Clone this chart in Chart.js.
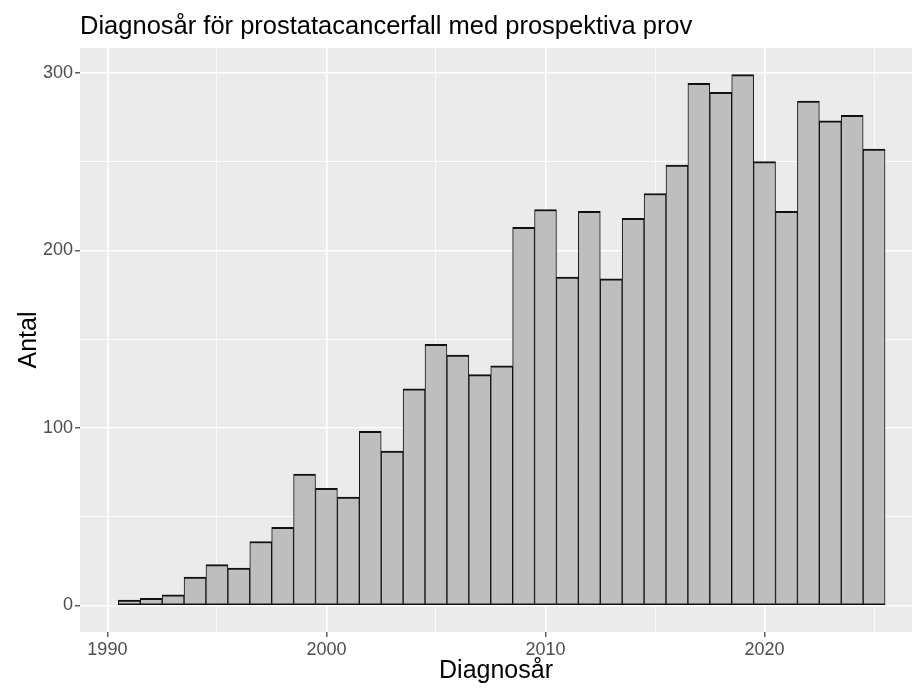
<!DOCTYPE html>
<html>
<head>
<meta charset="utf-8">
<script src="https://cdn.jsdelivr.net/npm/chart.js@4.4.1/dist/chart.umd.min.js"></script>
<style>
  html, body { margin: 0; padding: 0; background: #ffffff; }
</style>
</head>
<body>
<canvas id="histChart" width="912" height="688"></canvas>
<script>
// Diagnosår (bin centres) and antal fall per år
const years = [1991, 1992, 1993, 1994, 1995, 1996, 1997, 1998, 1999, 2000,
               2001, 2002, 2003, 2004, 2005, 2006, 2007, 2008, 2009, 2010,
               2011, 2012, 2013, 2014, 2015, 2016, 2017, 2018, 2019, 2020,
               2021, 2022, 2023, 2024, 2025];
const counts = [3, 4, 6, 16, 23, 21, 36, 44, 74, 66,
                61, 98, 87, 122, 147, 141, 130, 135, 213, 223,
                185, 222, 184, 218, 232, 248, 294, 289, 299, 250,
                222, 284, 273, 276, 257];

// Grid lines (major + minor) and labels
const xTicks = [1990, 1995, 2000, 2005, 2010, 2015, 2020, 2025];
const yTicks = [0, 50, 100, 150, 200, 250, 300];

const FONT = '"Liberation Sans", Arial, Helvetica, sans-serif';

// Grå panelbakgrund som i ggplot
const panelBg = {
    id: 'panelBg',
    beforeDraw(chart) {
        const { ctx, chartArea: a } = chart;
        ctx.save();
        ctx.fillStyle = '#EBEBEB';
        ctx.fillRect(a.left, a.top, a.right - a.left, a.bottom - a.top);
        ctx.restore();
    }
};

const isMajorX = v => v % 10 === 0;
const isMajorY = v => v % 100 === 0;

const ctx = document.getElementById('histChart').getContext('2d');
const histChart = new Chart(ctx, {
    type: 'bar',
    data: {
        datasets: [{
            label: 'Antal',
            data: years.map((yr, i) => ({ x: yr, y: counts[i] })),
            backgroundColor: '#BEBEBE',
            borderColor: '#111111',
            borderWidth: { top: 2, bottom: 1.5, left: 1, right: 1 },
            borderSkipped: false,
            barPercentage: 1,
            categoryPercentage: 1
        }]
    },
    options: {
        responsive: false,
        animation: false,
        plugins: {
            legend: { display: false },
            tooltip: { enabled: false },
            title: {
                display: true,
                text: 'Diagnosår för prostatacancerfall med prospektiva prov',
                align: 'start',
                fullSize: false,
                color: '#000000',
                font: { family: FONT, size: 25.5, weight: 'normal' },
                padding: { top: 12, bottom: 5.4 }
            }
        },
        scales: {
            x: {
                type: 'linear',
                offset: false,
                min: 1988.75,
                max: 2026.73,
                afterBuildTicks: s => { s.ticks = xTicks.map(v => ({ value: v })); },
                afterFit: s => { s.height = 56; },
                border: { display: false },
                grid: {
                    offset: false,
                    color: '#FFFFFF',
                    lineWidth: c => (c.tick && isMajorX(c.tick.value)) ? 1.6 : 0.8,
                    tickColor: c => (c.tick && isMajorX(c.tick.value)) ? '#333333' : 'rgba(0,0,0,0)',
                    tickLength: 5,
                    tickWidth: 1.2
                },
                ticks: {
                    autoSkip: false,
                    maxRotation: 0,
                    padding: 2,
                    color: '#4D4D4D',
                    font: { family: FONT, size: 18 },
                    callback: v => isMajorX(v) ? String(v) : ''
                },
                title: {
                    display: true,
                    text: 'Diagnosår',
                    color: '#000000',
                    font: { family: FONT, size: 25 },
                    padding: { top: 0, bottom: 2 }
                }
            },
            y: {
                type: 'linear',
                min: -14.95,
                max: 313.95,
                afterBuildTicks: s => { s.ticks = yTicks.map(v => ({ value: v })); },
                afterFit: s => { s.width = 80; },
                border: { display: false },
                grid: {
                    color: '#FFFFFF',
                    lineWidth: c => (c.tick && isMajorY(c.tick.value)) ? 1.6 : 0.8,
                    tickColor: c => (c.tick && isMajorY(c.tick.value)) ? '#333333' : 'rgba(0,0,0,0)',
                    tickLength: 5,
                    tickWidth: 1.2
                },
                ticks: {
                    padding: 2,
                    color: '#4D4D4D',
                    font: { family: FONT, size: 18 },
                    callback: v => isMajorY(v) ? String(v) : ''
                },
                title: {
                    display: true,
                    text: 'Antal',
                    color: '#000000',
                    font: { family: FONT, size: 25 },
                    padding: { top: 14, bottom: 0 }
                }
            }
        }
    },
    plugins: [panelBg]
});
</script>
</body>
</html>
